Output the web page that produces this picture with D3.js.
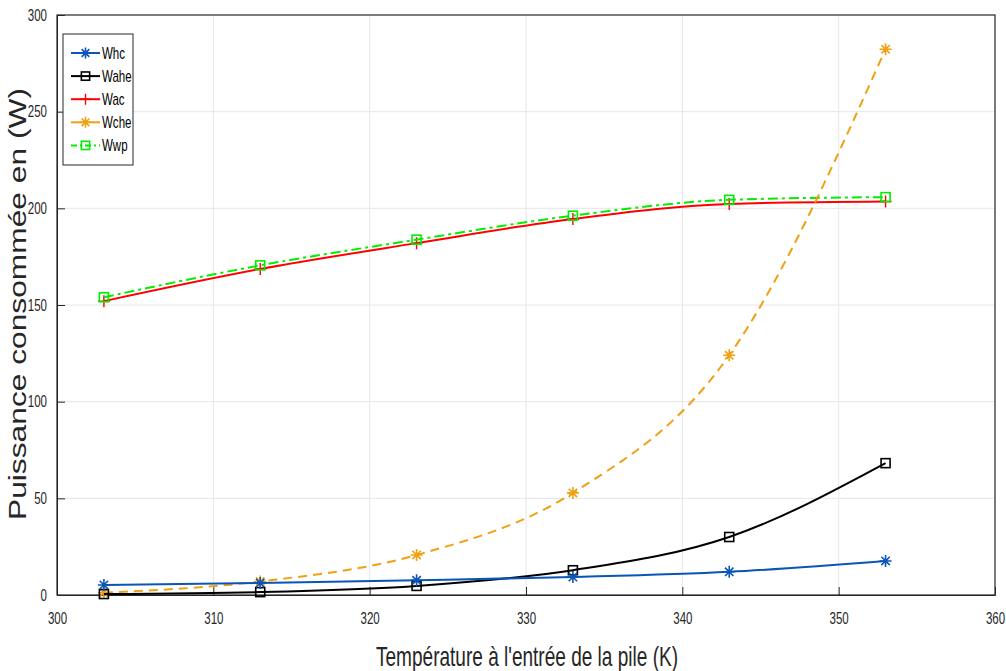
<!DOCTYPE html>
<html><head><meta charset="utf-8">
<script src="https://cdn.jsdelivr.net/npm/d3@7"></script>
<style>body{margin:0;background:#fff;} svg{display:block;} text{font-family:"Liberation Sans",Arial,sans-serif;}</style>
</head><body>
<svg id="c" width="1006" height="671"></svg>
<script>
const temps = [303, 313, 323, 333, 343, 353];
const whc  = [5.2, 6.2, 7.6, 9.3, 12.0, 17.6];
const wahe = [0.5, 1.5, 4.7, 12.8, 30.0, 68.2];
const wac  = [152.0, 168.6, 182.0, 194.5, 202.3, 203.5];
const wche = [1.2, 7.0, 20.7, 52.8, 124.0, 282.3];
const wwp  = [154.0, 170.5, 183.8, 196.2, 204.4, 205.8];
const xTicks = [300, 310, 320, 330, 340, 350, 360];
const yTicks = [0, 50, 100, 150, 200, 250, 300];
const seriesNames = ["Whc", "Wahe", "Wac", "Wche", "Wwp"];

const styles = {
  Whc:  {color:"#0a55b8", dash:null, marker:"star"},
  Wahe: {color:"#000000", dash:null, marker:"square"},
  Wac:  {color:"#ff0000", dash:null, marker:"plus"},
  Wche: {color:"#f0a010", dash:"9,6", marker:"star"},
  Wwp:  {color:"#00ee00", dash:"10,4,3,4", marker:"square"}
};
const data = {Whc: whc, Wahe: wahe, Wac: wac, Wche: wche, Wwp: wwp};

const svg = d3.select("#c");
const L = 57, R = 995, T = 15, B = 595;
const x = d3.scaleLinear().domain([300, 360]).range([L, R]);
const y = d3.scaleLinear().domain([0, 300]).range([B, T]);

// grid
const g = svg.append("g");
g.selectAll(".gx").data(xTicks.slice(1, -1)).enter().append("line")
  .attr("x1", d => x(d)).attr("x2", d => x(d)).attr("y1", T).attr("y2", B)
  .attr("stroke", "#e6e6e6").attr("stroke-width", 1);
g.selectAll(".gy").data(yTicks.slice(1, -1)).enter().append("line")
  .attr("y1", d => y(d)).attr("y2", d => y(d)).attr("x1", L).attr("x2", R)
  .attr("stroke", "#e6e6e6").attr("stroke-width", 1);

// frame
svg.append("rect").attr("x", L).attr("y", T).attr("width", R - L).attr("height", B - T)
  .attr("fill", "none").attr("stroke", "#262626").attr("stroke-width", 1.2);

// axes with inward ticks
const xAxis = d3.axisBottom(x).tickValues(xTicks).tickSizeInner(-8).tickSizeOuter(0).tickPadding(18).tickFormat(d3.format("d"));
const yAxis = d3.axisLeft(y).tickValues(yTicks).tickSizeInner(-8).tickSizeOuter(0).tickPadding(10).tickFormat(d3.format("d"));
const gx = svg.append("g").attr("transform", `translate(0,${B})`).call(xAxis);
const gy = svg.append("g").attr("transform", `translate(${L},0)`).call(yAxis);
[gx, gy].forEach(a => {
  a.select(".domain").attr("stroke", "#262626");
  a.selectAll(".tick line").attr("stroke", "#262626");
  a.selectAll(".tick text").attr("font-size", 16).attr("fill", "#262626")
   .attr("font-family", "Liberation Sans, Arial, sans-serif");
});
gx.selectAll(".tick text").each(function() {
  d3.select(this).attr("transform", "scale(0.72,1)").attr("x", 0);
});
gy.selectAll(".tick text").each(function() {
  const t = d3.select(this);
  const xx = +t.attr("x");
  t.attr("transform", "scale(0.72,1)").attr("x", xx / 0.72);
});

// line generator
const line = d3.line().x((d, i) => x(temps[i])).y(d => y(d)).curve(d3.curveMonotoneX);

function marker(sel, type, color, size) {
  const s = size;
  if (type === "star") {
    sel.append("path").attr("d", `M${-s},0L${s},0M0,${-s}L0,${s}M${-s*0.7},${-s*0.7}L${s*0.7},${s*0.7}M${-s*0.7},${s*0.7}L${s*0.7},${-s*0.7}`)
      .attr("stroke", color).attr("stroke-width", 1.6).attr("fill", "none");
  } else if (type === "square") {
    sel.append("rect").attr("x", -s*0.75).attr("y", -s*0.75).attr("width", s*1.5).attr("height", s*1.5)
      .attr("stroke", color).attr("stroke-width", 1.6).attr("fill", "none");
  } else if (type === "plus") {
    sel.append("path").attr("d", `M${-s},0L${s},0M0,${-s}L0,${s}`)
      .attr("stroke", color).attr("stroke-width", 1.4).attr("fill", "none");
  }
}

const order = ["Wac", "Wwp", "Wche", "Wahe", "Whc"];
order.forEach(name => {
  const st = styles[name];
  svg.append("path").datum(data[name]).attr("d", line)
    .attr("fill", "none").attr("stroke", st.color).attr("stroke-width", 2)
    .attr("stroke-dasharray", st.dash);
  data[name].forEach((v, i) => {
    const m = svg.append("g").attr("transform", `translate(${x(temps[i])},${y(v)})`);
    marker(m, st.marker, st.color, 6);
  });
});

// legend
const lg = svg.append("g");
lg.append("rect").attr("x", 63).attr("y", 34).attr("width", 70).attr("height", 131)
  .attr("fill", "#fff").attr("stroke", "#262626").attr("stroke-width", 1);
seriesNames.forEach((name, i) => {
  const st = styles[name];
  const yy = 53 + i * 23.1;
  lg.append("line").attr("x1", 71).attr("x2", 100).attr("y1", yy).attr("y2", yy)
    .attr("stroke", st.color).attr("stroke-width", 2)
    .attr("stroke-dasharray", name === "Wwp" ? "6,3,2,3" : null);
  const m = lg.append("g").attr("transform", `translate(85.5,${yy})`);
  marker(m, st.marker, st.color, 5.5);
  lg.append("text").attr("transform", `translate(102,${yy + 5.5}) scale(0.72,1)`)
    .attr("font-size", 16).attr("fill", "#000").text(name);
});

// axis labels
svg.append("text").attr("transform", `translate(527,666) scale(0.68,1)`)
  .attr("text-anchor", "middle").attr("font-size", 28).attr("fill", "#262626")
  .text("Température à l'entrée de la pile (K)");
svg.append("text").attr("transform", `translate(26,304) rotate(-90) scale(1.38,1)`)
  .attr("text-anchor", "middle").attr("font-size", 23).attr("fill", "#262626")
  .text("Puissance consommée en (W)");
</script>
</body></html>
